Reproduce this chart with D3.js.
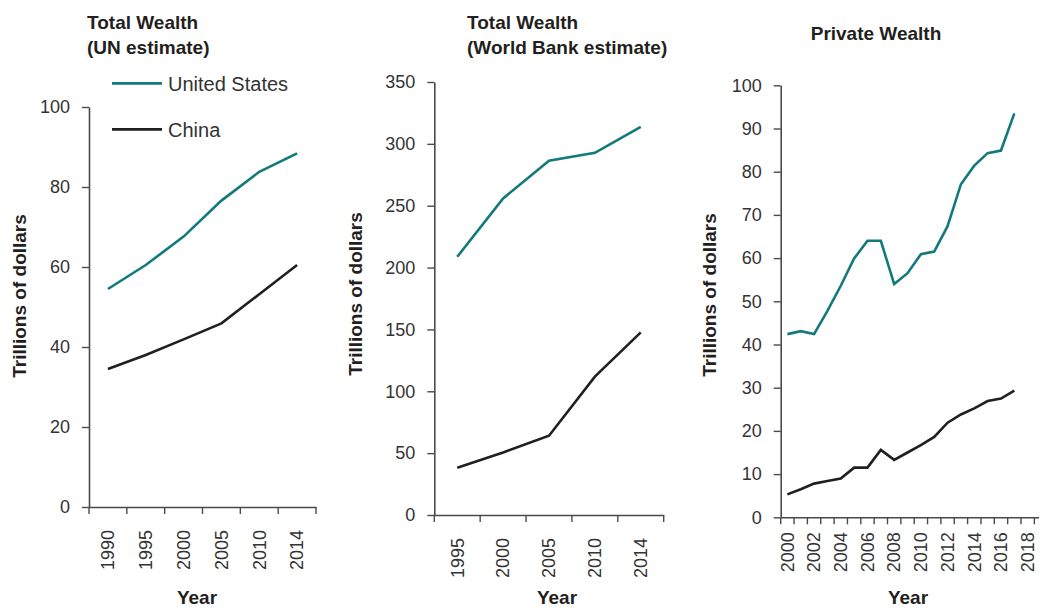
<!DOCTYPE html>
<html><head><meta charset="utf-8">
<script src="https://cdn.jsdelivr.net/npm/d3@7"></script>
<style>
body{margin:0;background:#fff;}
svg{display:block;}
text{font-family:"Liberation Sans",Arial,sans-serif;}
</style></head>
<body><svg id="c" width="1039" height="609"></svg>
<script>
// ---- Data ----
const unYears = ["1990","1995","2000","2005","2010","2014"];
const unUS    = [54.5, 60.5, 67.6, 76.6, 83.8, 88.4];
const unChina = [34.5, 38.0, 41.9, 45.9, 53.2, 60.5];
const unTicks = [0,20,40,60,80,100];

const wbYears = ["1995","2000","2005","2010","2014"];
const wbUS    = [208.7, 255.9, 286.3, 292.8, 313.8];
const wbChina = [38.2, 50.6, 64.1, 111.8, 147.6];
const wbTicks = [0,50,100,150,200,250,300,350];

const pwYears = ["2000","2001","2002","2003","2004","2005","2006","2007","2008","2009","2010","2011","2012","2013","2014","2015","2016","2017","2018","2019"];
const pwLabels = ["2000","2002","2004","2006","2008","2010","2012","2014","2016","2018"];
const pwUS    = [42.4, 43.1, 42.4, 47.8, 53.6, 59.9, 64.0, 64.0, 54.0, 56.5, 60.9, 61.5, 67.4, 77.1, 81.4, 84.3, 84.9, 93.5];
const pwChina = [5.3, 6.5, 7.8, 8.4, 9.0, 11.5, 11.5, 15.6, 13.3, 15.0, 16.7, 18.6, 21.9, 23.8, 25.2, 26.9, 27.5, 29.3];
const pwTicks = [0,10,20,30,40,50,60,70,80,90,100];

const seriesNames = ["United States","China"];
const colors = {"United States":"#127a7b","China":"#231f20"};

const svg = d3.select("#c");
const axisColor = "#4a4a4a";
const tickColor = "#333";

function panel(cfg){
  const x = d3.scaleBand().domain(cfg.cats).range(cfg.xr).paddingInner(0).paddingOuter(0);
  const y = d3.scaleLinear().domain([0, cfg.ymax]).range(cfg.yr);
  const g = svg.append("g");
  // y axis
  const ya = g.append("g").attr("transform",`translate(${cfg.xr[0]},0)`)
    .call(d3.axisLeft(y).tickValues(cfg.yTicks).tickSize(7).tickSizeOuter(0).tickPadding(12));
  ya.select(".domain").attr("stroke",axisColor).attr("stroke-width",1.6);
  ya.selectAll(".tick line").attr("stroke",axisColor).attr("stroke-width",1.4);
  ya.selectAll(".tick text").attr("fill",tickColor).style("font-size","18px").style("font-family","'Liberation Sans',Arial,sans-serif");
  // x axis (labels at band centres, ticks at band edges)
  const xa = g.append("g").attr("transform",`translate(0,${cfg.yr[0]})`)
    .call(d3.axisBottom(x).tickValues(cfg.labels).tickSize(0).tickSizeOuter(0).tickPadding(0));
  xa.select(".domain").attr("stroke",axisColor).attr("stroke-width",1.6);
  xa.selectAll(".tick text").attr("fill",tickColor).style("font-size","18px")
    .style("font-family","'Liberation Sans',Arial,sans-serif")
    .attr("text-anchor","end").attr("transform","rotate(-90)")
    .attr("x",-cfg.labelOff).attr("y",0).attr("dy","0.35em");
  const edges = cfg.cats.map(c=>x(c)).concat([x.range()[1]]);
  g.append("g").selectAll("line").data(edges).join("line")
    .attr("x1",d=>d).attr("x2",d=>d).attr("y1",cfg.yr[0]).attr("y2",cfg.yr[0]+7)
    .attr("stroke",axisColor).attr("stroke-width",1.4);
  // lines
  const line = d3.line().x((d,i)=>x(cfg.cats[i])+x.bandwidth()/2).y(d=>y(d));
  cfg.series.forEach(s=>{
    g.append("path").datum(s.values).attr("d",line).attr("fill","none")
      .attr("stroke",colors[s.name]).attr("stroke-width",2.6).attr("stroke-linejoin","miter");
  });
  // y title
  g.append("text").attr("transform",`translate(${cfg.ylabX},${cfg.ylabY}) rotate(-90)`)
    .attr("text-anchor","middle").attr("fill","#231f20")
    .style("font-size","19px").style("font-weight","bold").text("Trillions of dollars");
  // x title
  g.append("text").attr("x",cfg.xlabX).attr("y",604).attr("text-anchor","middle").attr("fill","#231f20")
    .style("font-size","19px").style("font-weight","bold").text("Year");
  // title
  const t = g.append("text").attr("fill","#231f20").style("font-size","19px").style("font-weight","bold")
    .attr("text-anchor",cfg.titleAnchor);
  cfg.title.forEach((ln,i)=>{
    t.append("tspan").attr("x",cfg.titleX).attr("y",cfg.titleY + i*25).text(ln);
  });
  return g;
}

panel({cats:unYears, labels:unYears, xr:[89,316], yr:[507,107], ymax:100, yTicks:unTicks,
  labelOff:23,
  series:[{name:"United States",values:unUS},{name:"China",values:unChina}],
  ylabX:26, ylabY:296, xlabX:197, title:["Total Wealth","(UN estimate)"], titleX:87, titleY:29, titleAnchor:"start"});

panel({cats:wbYears, labels:wbYears, xr:[434.3,663.7], yr:[515,82], ymax:350, yTicks:wbTicks,
  labelOff:23,
  series:[{name:"United States",values:wbUS},{name:"China",values:wbChina}],
  ylabX:362, ylabY:294, xlabX:557, title:["Total Wealth","(World Bank estimate)"], titleX:467, titleY:29, titleAnchor:"start"});

panel({cats:pwYears, labels:pwLabels, xr:[780.7,780.7+20*13.35], yr:[517.3,85.3], ymax:100, yTicks:pwTicks,
  labelOff:15,
  series:[{name:"United States",values:pwUS},{name:"China",values:pwChina}],
  ylabX:716, ylabY:295, xlabX:908, title:["Private Wealth"], titleX:876, titleY:40, titleAnchor:"middle"});

// legend
const lg = svg.append("g");
const ly = d3.scalePoint().domain(seriesNames).range([83.3,129.3]);
seriesNames.forEach(n=>{
  lg.append("line").attr("x1",112).attr("x2",162).attr("y1",ly(n)).attr("y2",ly(n))
    .attr("stroke",colors[n]).attr("stroke-width",2.8);
  lg.append("text").attr("x",168).attr("y",ly(n)).attr("dy","0.36em").attr("fill","#333")
    .style("font-size","20px").text(n);
});
</script></body></html>
